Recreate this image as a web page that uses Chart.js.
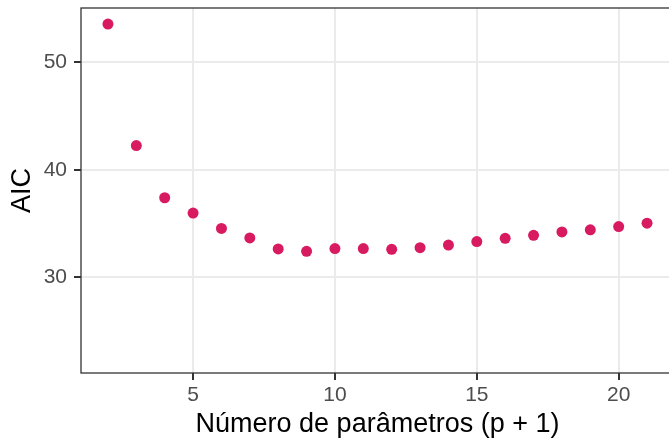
<!DOCTYPE html>
<html>
<head>
<meta charset="utf-8">
<script src="https://cdn.jsdelivr.net/npm/chart.js@4/dist/chart.umd.min.js"></script>
<style>
  html, body { margin: 0; padding: 0; background: #fff; overflow: hidden; }
  canvas { display: block; }
</style>
</head>
<body>
<canvas id="aicChart" width="700" height="439"></canvas>
<script>
// número de parâmetros (p + 1) e AIC de cada modelo
const nParams = [2, 3, 4, 5, 6, 7, 8, 9, 10, 11, 12, 13, 14, 15, 16, 17, 18, 19, 20, 21];
const aicValues = [53.56, 42.25, 37.4, 35.98, 34.55, 33.66, 32.64, 32.42, 32.67, 32.67,
                   32.6, 32.76, 33.0, 33.32, 33.63, 33.91, 34.22, 34.42, 34.72, 35.04];
const xTicks = [5, 10, 15, 20];
const yTicks = [30, 40, 50];

const FONT = "'Liberation Sans', Arial, Helvetica, sans-serif";
const GRID = "#EBEBEB";
const DARK = "#333333";

// moldura do painel (estilo theme_bw)
const panelBorder = {
  id: "panelBorder",
  afterDatasetsDraw(chart) {
    const { ctx, chartArea: a } = chart;
    ctx.save();
    ctx.strokeStyle = DARK;
    ctx.lineWidth = 1.3;
    ctx.strokeRect(a.left, a.top, a.right - a.left, a.bottom - a.top);
    ctx.restore();
  }
};

// sem folga extra para os rótulos nas pontas dos eixos
function noEdgePadding(scale) {
  scale.paddingTop = 0;
  scale.paddingBottom = 0;
  scale.paddingLeft = 0;
  scale.paddingRight = 0;
}

new Chart(document.getElementById("aicChart"), {
  type: "scatter",
  data: {
    datasets: [{
      label: "AIC",
      data: nParams.map((p, i) => ({ x: p, y: aicValues[i] })),
      backgroundColor: "#D81B60",
      borderWidth: 0,
      pointRadius: 5.5,
      pointHoverRadius: 5.5
    }]
  },
  options: {
    responsive: false,
    animation: false,
    layout: { padding: { top: 8, right: 26, bottom: 0, left: 0 } },
    plugins: {
      legend: { display: false },
      tooltip: { enabled: false }
    },
    scales: {
      x: {
        type: "linear",
        min: 1.05,
        max: 21.95,
        afterBuildTicks: (scale) => { scale.ticks = xTicks.map(v => ({ value: v })); },
        afterFit: (scale) => { noEdgePadding(scale); scale.height = 66; },
        grid: { color: GRID, lineWidth: 2, tickLength: 7, tickColor: DARK, tickWidth: 2 },
        border: { display: false },
        ticks: { color: "#4D4D4D", font: { family: FONT, size: 21 }, padding: 3, maxRotation: 0 },
        title: {
          display: true,
          text: "Número de parâmetros (p + 1)",
          color: "#000",
          font: { family: FONT, size: 27, lineHeight: 1.05 },
          padding: { top: 0, bottom: 0 }
        }
      },
      y: {
        min: 21.1,
        max: 55.05,
        afterBuildTicks: (scale) => { scale.ticks = yTicks.map(v => ({ value: v })); },
        afterFit: (scale) => { noEdgePadding(scale); scale.width = 81; },
        grid: { color: GRID, lineWidth: 2, tickLength: 7, tickColor: DARK, tickWidth: 2 },
        border: { display: false },
        ticks: { color: "#4D4D4D", font: { family: FONT, size: 21 }, padding: 7 },
        title: {
          display: true,
          text: "AIC",
          color: "#000",
          font: { family: FONT, size: 27, lineHeight: 1.05 },
          padding: { top: 8, bottom: 0 }
        }
      }
    }
  },
  plugins: [panelBorder]
});
</script>
</body>
</html>
